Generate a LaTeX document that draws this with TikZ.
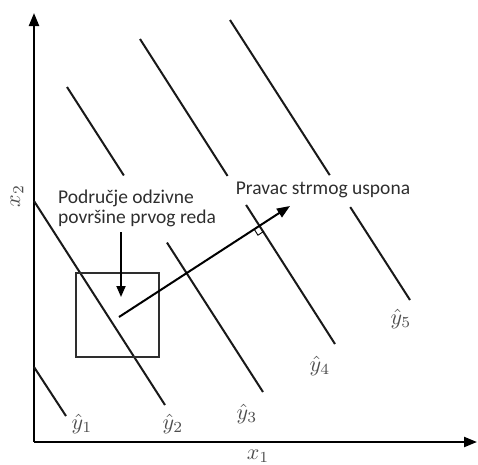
\documentclass[tikz,border=0pt]{standalone}
\usepackage{fontspec}
\setmainfont{Carlito}
\usetikzlibrary{arrows.meta,calc}
\definecolor{txt}{HTML}{2E2E2E}
\tikzset{
  axis/.style={line width=2.2pt,-{Triangle[width=10pt,length=13pt]}},
  level/.style={line width=2pt,black!90},
  lbl/.style={text=txt,font=\fontsize{19.5}{23}\selectfont,inner sep=2pt},
  yl/.style={text=txt!85,inner sep=0pt},
}
\newcommand{\mymath}[1]{\scalebox{2.2}{$#1$}}
\begin{document}
\begin{tikzpicture}[x=1pt,y=-1pt]
\useasboundingbox (0,0) rectangle (478,464);
% axes
\coordinate (O) at (34,442);
\coordinate (Ytip) at (34,13);
\coordinate (Xtip) at (477,442);
\draw[axis] (O) -- (Ytip);
\draw[axis] (O) -- (Xtip);
% level lines
\coordinate (a1) at (34,367);  \coordinate (b1) at (66,416);
\coordinate (a2) at (34,201);  \coordinate (b2) at (165,405);
\coordinate (a3) at (67,87);   \coordinate (b3) at (263,392);
\coordinate (a4) at (140,39);  \coordinate (b4) at (335,344);
\coordinate (a5) at (230,20);  \coordinate (b5) at (410,300);
\coordinate (g3a) at ($(a3)!0.29!(b3)$); \coordinate (g3b) at ($(a3)!0.51!(b3)$);
\coordinate (g4a) at ($(a4)!0.449!(b4)$); \coordinate (g4b) at ($(a4)!0.544!(b4)$);
\coordinate (g5a) at ($(a5)!0.554!(b5)$); \coordinate (g5b) at ($(a5)!0.668!(b5)$);
\draw[level] (a1) -- (b1);
\draw[level] (a2) -- (b2);
\draw[level] (a3) -- (g3a) (g3b) -- (b3);
\draw[level] (a4) -- (g4a) (g4b) -- (b4);
\draw[level] (a5) -- (g5a) (g5b) -- (b5);
% region square
\node[draw=txt,line width=1.6pt,minimum width=83pt,minimum height=84pt,inner sep=0pt] (sq) at (117.5,315) {};
% labels
\node[lbl,align=left] (reg) at (137,208) {Područje odzivne\\[-3pt]površine prvog reda};
\node[lbl] (dir) at (323,190) {Pravac strmog uspona};
% down arrow
\coordinate (d0) at (121,232);
\coordinate (d1) at (121,297);
\draw[line width=1.8pt,-{Triangle[width=9pt,length=11pt]}] (d0) -- (d1);
% steepest ascent arrow
\coordinate (A) at (119,317);
\coordinate (B) at (290,206);
\draw[line width=2pt,-{Triangle[width=10pt,length=13pt]}] (A) -- (B);
% right angle marker
\coordinate (I) at ($(A)!0.825!(B)$);
\coordinate (m1) at ($(I)!7pt!(b4)$);
\coordinate (m2) at ($(I)!7pt!(A)$);
\draw[line width=0.9pt] (m1) -- ($(m1)+(m2)-(I)$) -- (m2);
% level labels
\node[yl] (y1) at (82,424) {\mymath{\hat{y}_1}};
\node[yl] (y2) at (173,424) {\mymath{\hat{y}_2}};
\node[yl] (y3) at (247,414) {\mymath{\hat{y}_3}};
\node[yl] (y4) at (320,366) {\mymath{\hat{y}_4}};
\node[yl] (y5) at (401,319) {\mymath{\hat{y}_5}};
% axis labels
\node[yl] (x1) at (258,456) {\mymath{x_1}};
\node[yl,rotate=90] (x2) at (17,196) {\mymath{x_2}};
\end{tikzpicture}
\end{document}
